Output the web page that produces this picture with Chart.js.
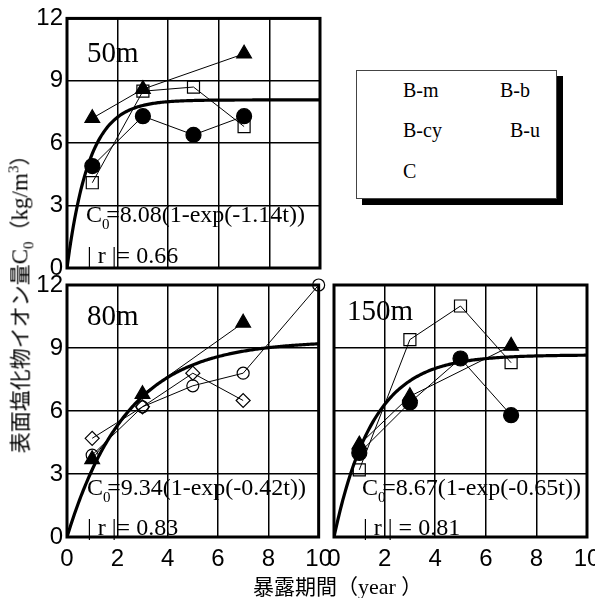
<!DOCTYPE html>
<html>
<head>
<meta charset="utf-8">
<script src="https://cdn.jsdelivr.net/npm/chart.js@4.4.0/dist/chart.umd.min.js"></script>
<style>
  html, body { margin: 0; padding: 0; background: #fff; }
  #wrap { position: relative; width: 595px; height: 598px; overflow: hidden; }
  canvas { position: absolute; }
  #c50 { left: 0; top: 0; }
  #c80 { left: 0; top: 260px; }
  #c150 { left: 300px; top: 260px; }
  .serif { font-family: "Liberation Serif", "Times New Roman", serif; }
  .cjk { font-family: "Noto Sans CJK JP", sans-serif; }
  #ytitle { position: absolute; left: 21px; top: 299px; transform: translate(-50%, -50%) rotate(-90deg);
            white-space: nowrap; font-size: 21px; line-height: 1; }
  #ytitle .serif { font-size: 23px; }
  #xtitle { position: absolute; left: 253px; top: 575px; white-space: nowrap; font-size: 21px; line-height: 1; }
  #xtitle .serif { font-size: 22px; }
  #legend { position: absolute; left: 356px; top: 70px; width: 199px; height: 127px; border: 1px solid #444;
            box-shadow: 6px 6px 0 #000; background: #fff; font-size: 20px; line-height: 20px; }
  #legend span { position: absolute; }
</style>
</head>
<body>
<div id="wrap">
  <canvas id="c50" width="340" height="290" style="width:340px;height:290px"></canvas>
  <canvas id="c80" width="340" height="338" style="width:340px;height:338px"></canvas>
  <canvas id="c150" width="320" height="338" style="width:320px;height:338px"></canvas>
  <div id="ytitle"><span class="cjk">表面塩化物イオン量</span><span class="serif">C<sub style="font-size:15px">0</sub></span><span class="cjk">（</span><span class="serif">kg/m<sup style="font-size:15px">3</sup></span><span class="cjk">）</span></div>
  <div id="xtitle"><span class="cjk">暴露期間（</span><span class="serif">year </span><span class="cjk">）</span></div>
  <div id="legend" class="serif"></div>
</div>
<script>
const seriesNames = ['B-m', 'B-b', 'B-cy', 'B-u', 'C'];
const xTicks = [0, 2, 4, 6, 8, 10];
const yTicks = [0, 3, 6, 9, 12];

const years = [1, 3, 5, 7];
const yearsCy = [1, 3, 7];
const yearsC = [1, 3, 5, 7, 10];

// 50m
const bm50 = [4.9, 7.3, 6.4, 7.3];
const bb50 = [4.1, 8.5, 8.7, 6.8];
const bcy50 = [7.2, 8.6, 10.3];
// 80m
const bcy80 = [3.7, 6.8, 10.2];
const bu80 = [4.7, 6.2, 7.8, 6.5];
const c80 = [3.9, 6.2, 7.2, 7.8, 12.0];
// 150m
const bm150 = [4.0, 6.4, 8.5, 5.8];
const bb150 = [3.2, 9.4, 11.0, 8.3];
const bcy150 = [4.4, 6.7, 9.1];

// C0 = A(1-exp(-k t)) and |r| for 50m, 80m, 150m
const fitA = [8.08, 9.34, 8.67];
const fitK = [1.14, 0.42, 0.65];
const fitR = [0.66, 0.83, 0.81];

const markers = {
  'B-m': { pointStyle: 'circle', radius: 7.5, fill: '#000' },
  'B-b': { pointStyle: 'rect', radius: 8.5, fill: 'rgba(0,0,0,0)' },
  'B-cy': { pointStyle: 'triangle', radius: 8.5, fill: '#000' },
  'B-u': { pointStyle: 'rectRot', radius: 7, fill: 'rgba(0,0,0,0)' },
  'C': { pointStyle: 'circle', radius: 6, fill: 'rgba(0,0,0,0)' }
};

const serif = '"Liberation Serif", "Times New Roman", serif';
const sans = '"Liberation Sans", Arial, sans-serif';

function series(name, xs, ys) {
  const m = markers[name];
  return {
    label: name,
    data: xs.map((x, i) => ({ x: x, y: ys[i] })),
    showLine: true,
    borderColor: '#000',
    borderWidth: 1,
    pointStyle: m.pointStyle,
    pointRadius: m.radius,
    pointBackgroundColor: m.fill,
    pointBorderColor: '#000',
    pointBorderWidth: 1.2,
    clip: false,
    order: 1
  };
}

function fitCurve(i) {
  const pts = [];
  for (let t = 0; t <= 10.0001; t += 0.05) {
    pts.push({ x: t, y: fitA[i] * (1 - Math.exp(-fitK[i] * t)) });
  }
  return {
    label: 'fit',
    data: pts,
    showLine: true,
    borderColor: '#000',
    borderWidth: 3.2,
    pointRadius: 0,
    order: 0
  };
}

// thick box around the plot area
const frame = {
  id: 'frame',
  beforeDatasetsDraw(chart) {
    const { ctx, chartArea: ca } = chart;
    ctx.save();
    ctx.lineWidth = 3;
    ctx.strokeStyle = '#000';
    ctx.strokeRect(ca.left, ca.top, ca.right - ca.left, ca.bottom - ca.top);
    ctx.restore();
  }
};

// panel name, regression equation and |r|
const panelText = {
  id: 'panelText',
  afterDatasetsDraw(chart, args, o) {
    const { ctx, chartArea: ca } = chart;
    ctx.save();
    ctx.fillStyle = '#000';
    ctx.textBaseline = 'alphabetic';
    ctx.textAlign = 'left';
    ctx.font = '29px ' + serif;
    ctx.fillText(o.title, ca.left + o.titleAt[0], ca.top + o.titleAt[1]);

    let x = ca.left + o.eqAt[0];
    const y = ca.bottom - o.eqAt[1];
    ctx.font = '24px ' + serif;
    ctx.fillText('C', x, y);
    x += ctx.measureText('C').width;
    ctx.font = '15px ' + serif;
    ctx.fillText('0', x, y + 7);
    x += ctx.measureText('0').width * 0.55;
    ctx.font = '24px ' + serif;
    ctx.fillText('=' + fitA[o.i].toFixed(2) + '(1-exp(-' + fitK[o.i].toFixed(2) + 't))', x, y);

    ctx.fillText('| r |' + o.sep + fitR[o.i].toFixed(2), ca.left + o.rAt[0], ca.bottom - o.rAt[1]);
    ctx.restore();
  }
};

function makePanel(id, datasets, p) {
  const tickFont = { family: sans, size: 24 };
  new Chart(document.getElementById(id), {
    type: 'scatter',
    data: { datasets: datasets },
    options: {
      responsive: false,
      animation: false,
      events: [],
      layout: { padding: p.padding },
      plugins: {
        legend: { display: false },
        tooltip: { enabled: false },
        panelText: p.text
      },
      scales: {
        x: {
          type: 'linear', min: 0, max: 10,
          afterBuildTicks: s => { s.ticks = xTicks.map(v => ({ value: v })); },
          afterFit: s => { s.height = p.xHeight; },
          grid: { color: '#000', lineWidth: 1.5, drawTicks: false },
          border: { display: false },
          ticks: { display: p.xLabels, padding: 8, color: '#000', font: tickFont, maxRotation: 0 }
        },
        y: {
          type: 'linear', min: 0, max: 12,
          afterBuildTicks: s => { s.ticks = yTicks.map(v => ({ value: v })); },
          afterFit: s => { s.width = p.yWidth; },
          grid: { color: '#000', lineWidth: 1.5, drawTicks: false },
          border: { display: false },
          ticks: { display: p.yLabels, padding: 4, color: '#000', font: tickFont }
        }
      }
    },
    plugins: [frame, panelText]
  });
}

makePanel('c50', [
  fitCurve(0),
  series('B-cy', yearsCy, bcy50),
  series('B-b', years, bb50),
  series('B-m', years, bm50)
], {
  padding: { left: 0, top: 16, right: 20, bottom: 0 },
  xHeight: 22, yWidth: 67, xLabels: false, yLabels: true,
  text: { i: 0, title: '50m', titleAt: [20, 44], eqAt: [19, 46], rAt: [20, 5], sep: '= ' }
});

makePanel('c80', [
  fitCurve(1),
  series('B-cy', yearsCy, bcy80),
  series('B-u', years, bu80),
  series('C', yearsC, c80)
], {
  padding: { left: 0, top: 25, right: 21, bottom: 0 },
  xHeight: 61, yWidth: 67, xLabels: true, yLabels: true,
  text: { i: 1, title: '80m', titleAt: [20, 40], eqAt: [20, 42], rAt: [20, 2], sep: '= ' }
});

makePanel('c150', [
  fitCurve(2),
  series('B-cy', yearsCy, bcy150),
  series('B-b', years, bb150),
  series('B-m', years, bm150)
], {
  padding: { left: 34, top: 25, right: 33, bottom: 0 },
  xHeight: 61, yWidth: 0, xLabels: true, yLabels: false,
  text: { i: 2, title: '150m', titleAt: [13, 35], eqAt: [28, 42], rAt: [29, 2], sep: ' = ' }
});

// legend box: names only, two columns
const legendAt = [[46, 9], [143, 9], [46, 49], [153, 49], [46, 90]];
const legend = document.getElementById('legend');
seriesNames.forEach((name, i) => {
  const s = document.createElement('span');
  s.textContent = name;
  s.style.left = legendAt[i][0] + 'px';
  s.style.top = legendAt[i][1] + 'px';
  legend.appendChild(s);
});
</script>
</body>
</html>
